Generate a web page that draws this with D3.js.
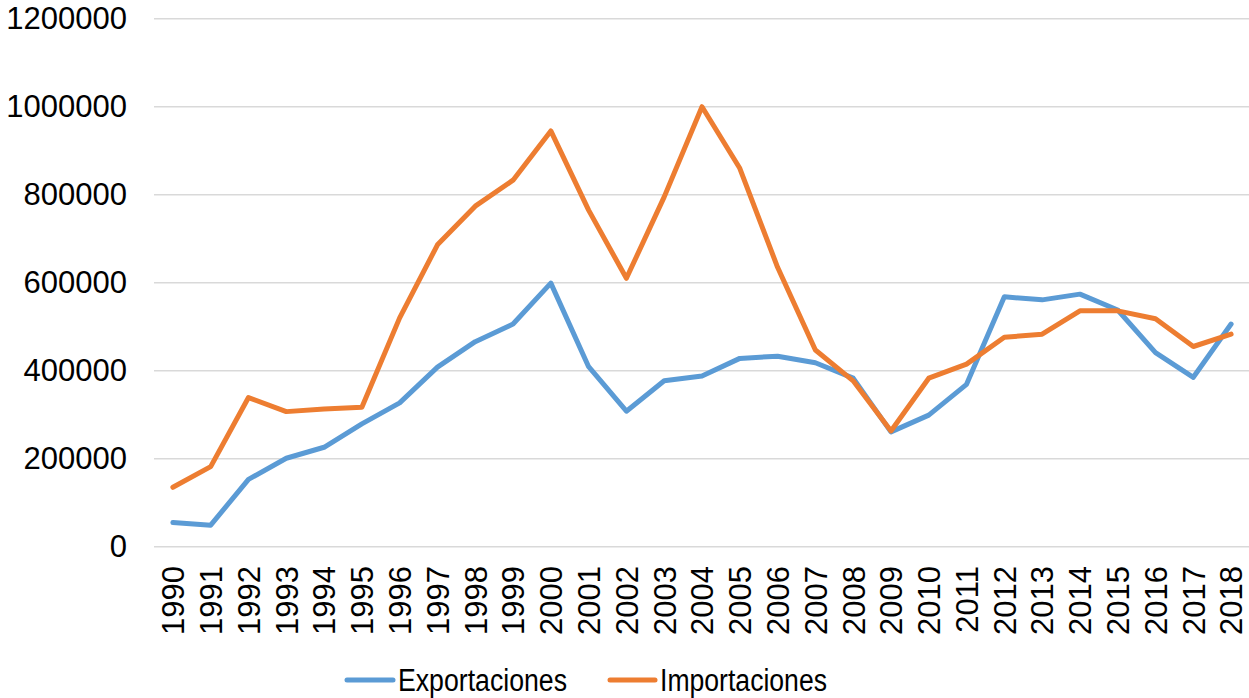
<!DOCTYPE html>
<html><head><meta charset="utf-8">
<script src="https://cdn.jsdelivr.net/npm/d3@7"></script>
<style>body{margin:0;background:#fff;} svg{display:block;} text{font-family:"Liberation Sans",Arial,sans-serif;fill:#000;}</style>
</head><body>
<svg id="c" width="1249" height="698"></svg>
<script>
const years = [1990,1991,1992,1993,1994,1995,1996,1997,1998,1999,2000,2001,2002,2003,2004,2005,2006,2007,2008,2009,2010,2011,2012,2013,2014,2015,2016,2017,2018];
const exportaciones = [55000,49000,153000,201000,226000,279000,327000,408000,466000,506000,599000,409000,308000,377000,388000,428000,433000,418000,383000,261000,299000,369000,568000,561000,574000,538000,441000,385000,506000];
const importaciones = [135000,182000,339000,307000,313000,317000,520000,686000,774000,833000,945000,765000,610000,795000,1000000,860000,635000,447000,377000,263000,383000,415000,476000,483000,536000,536000,518000,455000,483000];
const yTicks = [0,200000,400000,600000,800000,1000000,1200000];
const seriesNames = ["Exportaciones","Importaciones"];
const colors = ["#5B9BD5","#ED7D31"];

const svg = d3.select("#c");
const pLeft = 154, pRight = 1250, pTop = 18.7, pBottom = 546.7;
const x = d3.scalePoint().domain(years).range([pLeft,pRight]).padding(0.5);
const y = d3.scaleLinear().domain([0,1200000]).range([pBottom,pTop]);

// gridlines
svg.append("g").selectAll("line").data(yTicks).join("line")
  .attr("x1",pLeft).attr("x2",pRight)
  .attr("y1",d=>y(d)).attr("y2",d=>y(d))
  .attr("stroke","#d9d9d9").attr("stroke-width",1.5);

// y axis labels
const yAxis = d3.axisLeft(y).tickValues(yTicks).tickFormat(d3.format("d")).tickSize(0).tickPadding(0);
const ga = svg.append("g").attr("transform",`translate(127,0)`).call(yAxis);
ga.select(".domain").remove();
ga.selectAll("text").attr("font-size",31).attr("font-family","Liberation Sans, Arial, sans-serif").attr("fill","#000");

// x axis labels
const xAxis = d3.axisBottom(x).tickSize(0).tickPadding(0);
const gx = svg.append("g").attr("transform",`translate(0,566)`).call(xAxis);
gx.select(".domain").remove();
gx.selectAll("text").attr("font-size",31).attr("font-family","Liberation Sans, Arial, sans-serif").attr("fill","#000")
  .attr("transform","rotate(-90)").attr("text-anchor","end").attr("x",0).attr("y",0).attr("dy","0.35em");

// lines
const line = d3.line().x((d,i)=>x(years[i])).y(d=>y(d));
[exportaciones, importaciones].forEach((s,k)=>{
  svg.append("path").datum(s).attr("d",line).attr("fill","none")
    .attr("stroke",colors[k]).attr("stroke-width",5).attr("stroke-linejoin","round").attr("stroke-linecap","round");
});

// legend
const leg = [{x1:347,x2:393,tx:398,w:169},{x1:610,x2:655,tx:660,w:167}];
seriesNames.forEach((n,k)=>{
  svg.append("line").attr("x1",leg[k].x1).attr("x2",leg[k].x2).attr("y1",680).attr("y2",680)
    .attr("stroke",colors[k]).attr("stroke-width",5).attr("stroke-linecap","round");
  svg.append("text").attr("x",leg[k].tx).attr("y",691).attr("font-size",31)
    .attr("textLength",leg[k].w).attr("lengthAdjust","spacingAndGlyphs").text(n);
});
</script>
</body></html>
